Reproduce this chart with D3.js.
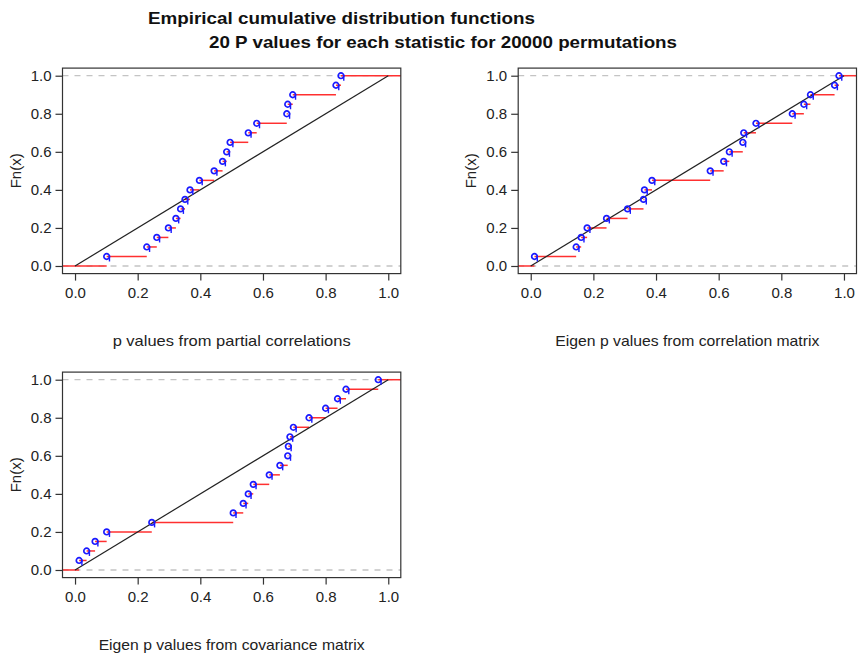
<!DOCTYPE html>
<html>
<head>
<meta charset="utf-8">
<script src="https://cdn.jsdelivr.net/npm/d3@7"></script>
<style>
  body { margin: 0; background: #fff; }
  text { font-family: "Liberation Sans", Arial, sans-serif; }
</style>
</head>
<body>
<script>
const pPartial = [0.101, 0.229, 0.261, 0.298, 0.322, 0.337, 0.351, 0.367, 0.397, 0.444,
  0.471, 0.484, 0.495, 0.553, 0.58, 0.676, 0.679, 0.695, 0.833, 0.849];
const pEigenCor = [0.012, 0.145, 0.161, 0.18, 0.242, 0.309, 0.36, 0.363, 0.387, 0.573,
  0.616, 0.634, 0.677, 0.68, 0.719, 0.835, 0.872, 0.893, 0.97, 0.984];
const pEigenCov = [0.013, 0.037, 0.064, 0.101, 0.245, 0.505, 0.537, 0.553, 0.569, 0.62,
  0.654, 0.679, 0.681, 0.686, 0.697, 0.747, 0.8, 0.838, 0.865, 0.968];
const ticks = [0, 0.2, 0.4, 0.6, 0.8, 1.0];
const titleLines = [
  "Empirical cumulative distribution functions",
  "20 P values for each statistic for 20000 permutations",
];

const panels = [
  { values: pPartial, xlab: "p values from partial correlations", labW: 238, left: 62.5, top: 68.1 },
  { values: pEigenCor, xlab: "Eigen p values from correlation matrix", labW: 264, left: 518.2, top: 68.1 },
  { values: pEigenCov, xlab: "Eigen p values from covariance matrix", labW: 266, left: 62.5, top: 372.1 },
];

const width = 858;
const height = 654;
const plotW = 338.3;
const plotH = 205.5;

const svg = d3
  .select("body")
  .append("svg")
  .attr("width", width)
  .attr("height", height);

// title, stretched a bit to match the wider original face
[
  { x: 148, y: 24, w: 387 },
  { x: 209, y: 47.5, w: 468 },
].forEach((t, i) => {
  svg
    .append("text")
    .attr("x", t.x)
    .attr("y", t.y)
    .attr("font-size", 16.5)
    .attr("font-weight", "bold")
    .attr("fill", "#111")
    .attr("textLength", t.w)
    .attr("lengthAdjust", "spacingAndGlyphs")
    .text(titleLines[i]);
});

const drawPanel = ({ values, xlab, labW, left, top }) => {
  const x = d3.scaleLinear().domain([-0.04, 1.04]).range([0, plotW]);
  const y = d3.scaleLinear().domain([-0.04, 1.04]).range([plotH, 0]);
  const n = values.length;
  const sorted = values.slice().sort(d3.ascending);

  const g = svg.append("g").attr("transform", `translate(${left} ${top})`);

  // dashed reference lines at 0 and 1
  g.selectAll("line.ref")
    .data([0, 1])
    .enter()
    .append("line")
    .attr("x1", 0)
    .attr("x2", plotW)
    .attr("y1", (d) => y(d))
    .attr("y2", (d) => y(d))
    .attr("stroke", "#c4c4c4")
    .attr("stroke-width", 1.3)
    .attr("stroke-dasharray", "6 6");

  // step segments
  const steps = d3.range(n + 1).map((i) => ({
    x0: i === 0 ? -0.04 : sorted[i - 1],
    x1: i === n ? 1.04 : sorted[i],
    f: i / n,
  }));

  g.selectAll("line.step")
    .data(steps)
    .enter()
    .append("line")
    .attr("x1", (d) => x(d.x0))
    .attr("x2", (d) => x(d.x1))
    .attr("y1", (d) => y(d.f))
    .attr("y2", (d) => y(d.f))
    .attr("stroke", "#ff3030")
    .attr("stroke-width", 1.5);

  // uniform reference diagonal
  g.append("line")
    .attr("x1", x(0))
    .attr("y1", y(0))
    .attr("x2", x(1))
    .attr("y2", y(1))
    .attr("stroke", "#222")
    .attr("stroke-width", 1.2);

  // points
  const pts = g
    .selectAll("g.pt")
    .data(sorted)
    .enter()
    .append("g")
    .attr("transform", (d, i) => `translate(${x(d)} ${y((i + 1) / n)})`);

  pts.append("circle")
    .attr("r", 2.8)
    .attr("fill", "none")
    .attr("stroke", "#1a1aff")
    .attr("stroke-width", 1.7);

  pts.append("line")
    .attr("x1", 2.8)
    .attr("x2", 2.8)
    .attr("y1", -1)
    .attr("y2", 5)
    .attr("stroke", "#1a1aff")
    .attr("stroke-width", 1.4);

  // frame
  g.append("rect")
    .attr("width", plotW)
    .attr("height", plotH)
    .attr("fill", "none")
    .attr("stroke", "#333")
    .attr("stroke-width", 1.2);

  // axes
  const xAxis = d3.axisBottom(x).tickValues(ticks).tickFormat(d3.format(".1f")).tickSize(7).tickPadding(7);
  const yAxis = d3.axisLeft(y).tickValues(ticks).tickFormat(d3.format(".1f")).tickSize(7).tickPadding(4);

  const gx = g.append("g").attr("transform", `translate(0 ${plotH})`).call(xAxis);
  const gy = g.append("g").call(yAxis);
  [gx, gy].forEach((a) => {
    a.select(".domain").remove();
    a.selectAll("line").attr("stroke", "#333").attr("stroke-width", 1.2);
    a.selectAll("text")
      .attr("font-size", 15)
      .attr("fill", "#222")
      .style("font-family", "'Liberation Sans', Arial, sans-serif");
  });

  g.append("text")
    .attr("x", plotW / 2)
    .attr("y", plotH + 72)
    .attr("text-anchor", "middle")
    .attr("font-size", 15)
    .attr("fill", "#222")
    .attr("textLength", labW)
    .attr("lengthAdjust", "spacingAndGlyphs")
    .text(xlab);

  g.append("text")
    .attr("transform", `translate(${-42} ${plotH / 2}) rotate(-90)`)
    .attr("text-anchor", "middle")
    .attr("font-size", 15)
    .attr("fill", "#222")
    .text("Fn(x)");
};

panels.forEach(drawPanel);
</script>
</body>
</html>
